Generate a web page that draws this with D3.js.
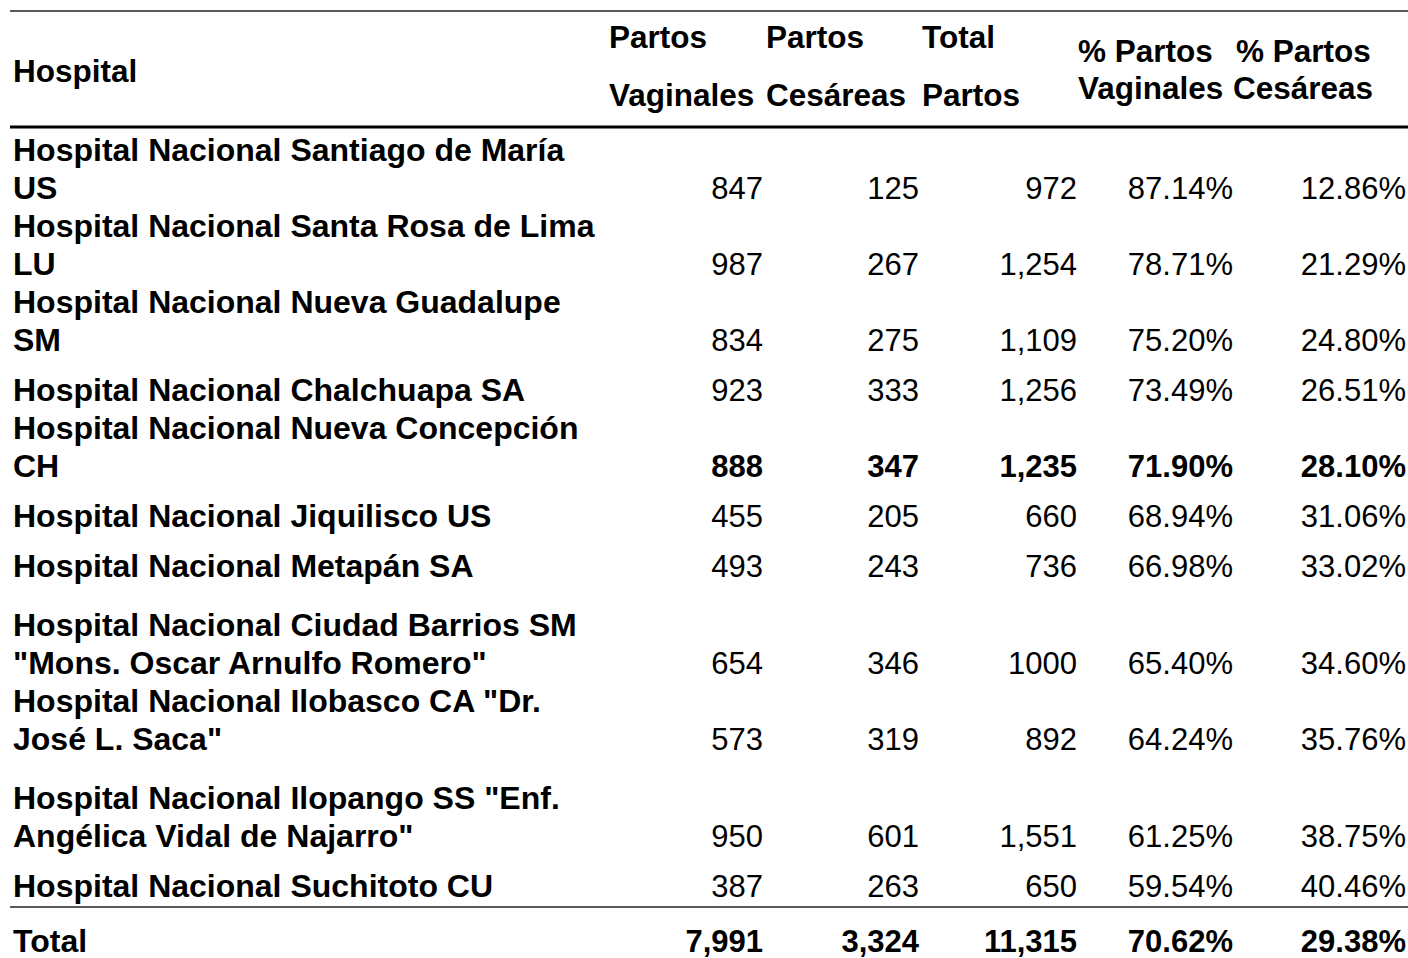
<!DOCTYPE html>
<html>
<head>
<meta charset="utf-8">
<script src="https://cdn.jsdelivr.net/npm/d3@7"></script>
<style>
  body { margin: 0; background: #fff; }
  svg text { font-family: "Liberation Sans", Arial, sans-serif; font-size: 31px; fill: #000; }
  svg text.name { font-size: 32px; font-weight: bold; }
  svg text.head { font-size: 31.5px; font-weight: bold; }
</style>
</head>
<body>
<div id="chart"></div>
<script>
var hospitals = [
  "Hospital Nacional Santiago de María|US",
  "Hospital Nacional Santa Rosa de Lima|LU",
  "Hospital Nacional Nueva Guadalupe|SM",
  "Hospital Nacional Chalchuapa SA",
  "Hospital Nacional Nueva Concepción|CH",
  "Hospital Nacional Jiquilisco US",
  "Hospital Nacional Metapán SA",
  "Hospital Nacional Ciudad Barrios SM|\"Mons. Oscar Arnulfo Romero\"",
  "Hospital Nacional Ilobasco CA \"Dr.|José L. Saca\"",
  "Hospital Nacional Ilopango SS \"Enf.|Angélica Vidal de Najarro\"",
  "Hospital Nacional Suchitoto CU"
];
var partosVaginales = [847, 987, 834, 923, 888, 455, 493, 654, 573, 950, 387];
var partosCesareas  = [125, 267, 275, 333, 347, 205, 243, 346, 319, 601, 263];
var totalLabels     = ["972", "1,254", "1,109", "1,256", "1,235", "660", "736", "1000", "892", "1,551", "650"];
var pctVaginales    = [87.14, 78.71, 75.20, 73.49, 71.90, 68.94, 66.98, 65.40, 64.24, 61.25, 59.54];
var pctCesareas     = [12.86, 21.29, 24.80, 26.51, 28.10, 31.06, 33.02, 34.60, 35.76, 38.75, 40.46];
var highlightRow = 4; // Nueva Concepción is bold

var totalRow = ["Total", "7,991", "3,324", "11,315", "70.62%", "29.38%"];

var headers = [
  ["Partos", "Vaginales"],
  ["Partos", "Cesáreas"],
  ["Total", "Partos"],
  ["% Partos", "Vaginales"],
  ["% Partos", "Cesáreas"]
];

// layout
var W = 1408, H = 958;
var lineH = 38;
var tallRows = [7, 9]; // rows that have extra blank space on top
var colLeft = [609, 766, 922, 1078, 1236];
var colRight = [763, 919, 1077, 1233, 1406];
var nameX = 13;

var svg = d3.select("#chart").append("svg")
  .attr("width", W).attr("height", H);

// rules
svg.append("line").attr("x1", 10).attr("x2", W).attr("y1", 11).attr("y2", 11)
  .attr("stroke", "#5a5a5a").attr("stroke-width", 2);
svg.append("line").attr("x1", 10).attr("x2", W).attr("y1", 127).attr("y2", 127)
  .attr("stroke", "#000").attr("stroke-width", 3);
svg.append("line").attr("x1", 10).attr("x2", W).attr("y1", 907).attr("y2", 907)
  .attr("stroke", "#5a5a5a").attr("stroke-width", 2);

// header
svg.append("text").attr("class", "head").attr("x", nameX).attr("y", 82).text("Hospital");
headers.forEach(function(h, i) {
  var pct = i >= 3;
  svg.append("text").attr("class", "head").attr("x", colLeft[i]).attr("y", pct ? 62 : 48)
    .text(h[0]);
  svg.append("text").attr("class", "head").attr("x", i === 4 ? 1233 : colLeft[i]).attr("y", pct ? 99 : 106)
    .text(h[1]);
});

// row baselines from line counts
var fmtInt = d3.format(",");
var baselines = [];
var y = 127 + 72; // baseline of last line of first row
hospitals.forEach(function(name, i) {
  var n = name.split("|").length;
  if (i > 0) {
    y += (n === 2 ? 76 : 50) + (tallRows.indexOf(i) >= 0 ? 21 : 0);
  }
  baselines.push(y);
});

var rows = svg.selectAll("g.row").data(hospitals).enter().append("g").attr("class", "row");

rows.each(function(name, i) {
  var g = d3.select(this);
  var lines = name.split("|");
  var base = baselines[i];
  lines.forEach(function(l, k) {
    g.append("text").attr("class", "name").attr("x", nameX)
      .attr("y", base - (lines.length - 1 - k) * lineH)
      .text(l);
  });
  var vals = [
    fmtInt(partosVaginales[i]),
    fmtInt(partosCesareas[i]),
    totalLabels[i],
    pctVaginales[i].toFixed(2) + "%",
    pctCesareas[i].toFixed(2) + "%"
  ];
  vals.forEach(function(v, c) {
    g.append("text").attr("x", colRight[c]).attr("y", base)
      .attr("text-anchor", "end")
      .style("font-weight", i === highlightRow ? "bold" : "normal")
      .text(v);
  });
});

// total row
var totalBase = 952;
svg.append("text").attr("class", "name").attr("x", nameX).attr("y", totalBase).text(totalRow[0]);
totalRow.slice(1).forEach(function(v, c) {
  svg.append("text").attr("x", colRight[c]).attr("y", totalBase)
    .attr("text-anchor", "end").style("font-weight", "bold").text(v);
});
</script>
</body>
</html>
